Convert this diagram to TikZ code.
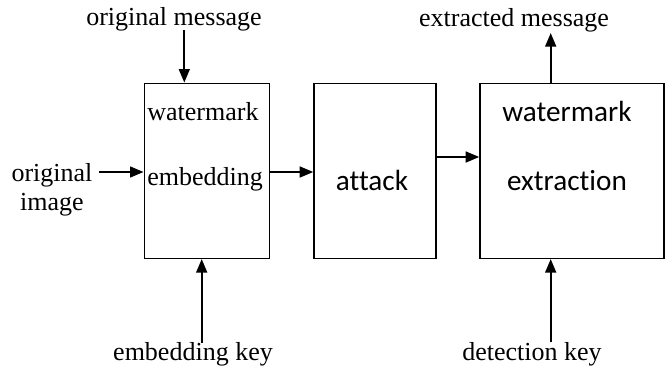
\documentclass[tikz,border=0pt]{standalone}
\usepackage{fontspec}
\setmainfont{Liberation Serif}
\newfontfamily\calib[Ligatures=NoCommon]{Carlito}
\usetikzlibrary{arrows.meta}
\begin{document}
\begin{tikzpicture}[x=0.5pt,y=-0.5pt,
  box/.style={draw,line width=0.7pt,minimum height=87.5pt,inner sep=0pt},
  arr/.style={line width=1.1pt,-{Triangle[length=6.8pt,width=5.4pt]}},
  lbl/.style={font=\fontsize{13}{15}\selectfont,inner sep=0pt,anchor=base},
  clbl/.style={font=\calib\fontsize{14.6}{17}\selectfont,inner sep=0pt,anchor=base}]
\useasboundingbox (0,0) rectangle (665,370);
% boxes
\node[box,minimum width=62.5pt] (emb) at (206.8,170.8) {};
\node[box,minimum width=61pt] (att) at (375,170.8) {};
\node[box,minimum width=92pt] (ext) at (572,170.8) {};
% box texts
\node[lbl,anchor=base west] (t1) at (147,120) {watermark};
\node[lbl,anchor=base west] (t2) at (147,185.5) {embedding};
\node[clbl] (t3) at (372,190) {attack};
\node[clbl] (t4) at (567,121.5) {watermark};
\node[clbl] (t5) at (567,190) {extraction};
% outside labels
\node[lbl] (om) at (174,25.5) {original message};
\node[lbl] (oi1) at (52,181.5) {original};
\node[lbl] (oi2) at (52,210) {image};
\node[lbl] (ek) at (193,360.5) {embedding key};
\node[lbl] (em) at (514,26.5) {extracted message};
\node[lbl] (dk) at (532,360.5) {detection key};
% connector free ends
\coordinate (omA) at (184.3,30);
\coordinate (oiA) at (99,172);
\coordinate (ekA) at (201.7,343);
\coordinate (emA) at (550.7,33);
\coordinate (dkA) at (550.7,342);
% connectors
\draw[arr] (omA) -- (omA |- emb.north);
\draw[arr] (oiA) -- (oiA -| emb.west);
\draw[arr] (ekA) -- (ekA |- emb.south);
\draw[arr] (emb.east |- oiA) -- (att.west |- oiA);
\draw[arr] (att.east |- 0,157) -- (ext.west |- 0,157);
\draw[arr] (emA |- ext.north) -- (emA);
\draw[arr] (dkA) -- (dkA |- ext.south);
\end{tikzpicture}
\end{document}
